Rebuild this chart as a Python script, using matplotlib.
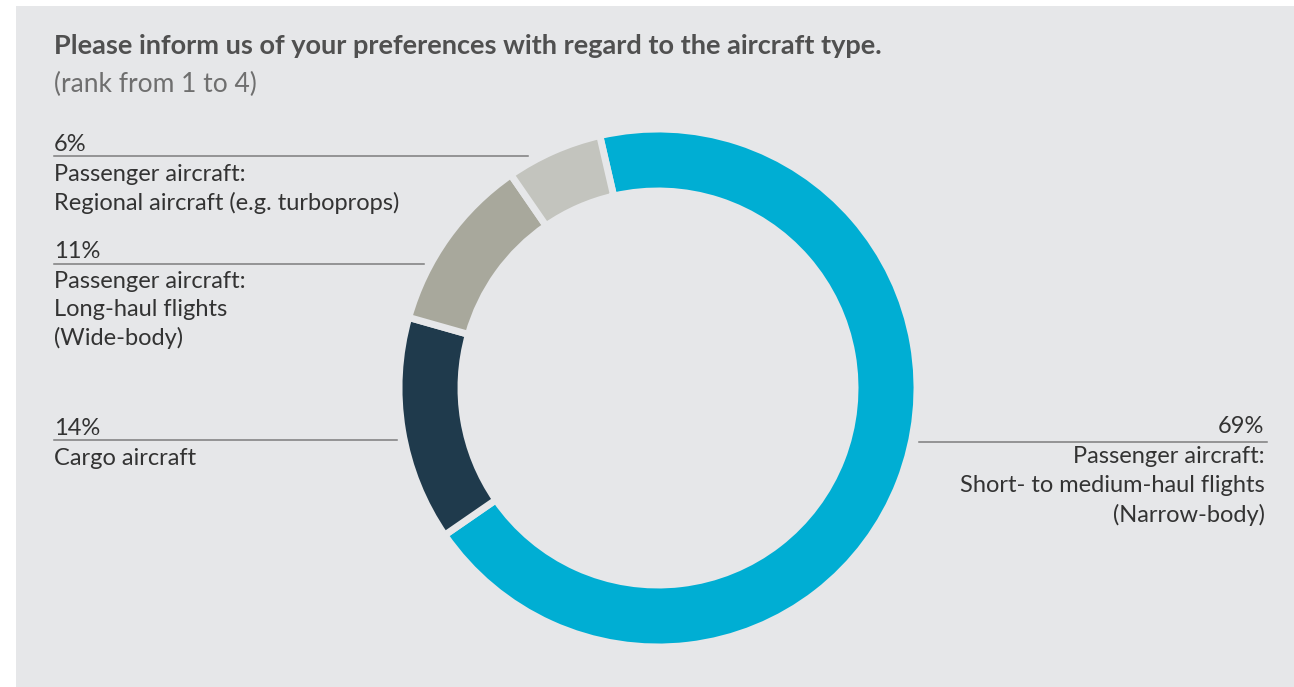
import matplotlib
matplotlib.use("Agg")
import matplotlib.pyplot as plt
from matplotlib.patches import Rectangle

# data
shares = [69, 14, 11, 6]
names = [
    "Passenger aircraft:\nShort- to medium-haul flights\n(Narrow-body)",
    "Cargo aircraft",
    "Passenger aircraft:\nLong-haul flights\n(Wide-body)",
    "Passenger aircraft:\nRegional aircraft (e.g. turboprops)",
]
colors = ["#00aed3", "#1f3a4c", "#a8a89c", "#c3c4be"]

title = "Please inform us of your preferences with regard to the aircraft type."
subtitle = "(rank from 1 to 4)"

W, H = 1294, 687
BG = "#e6e7e9"
TXT = "#333333"
LINE = "#7d7d7d"
FONT = "Lato"
FS = 17

fig = plt.figure(figsize=(W / 100, H / 100), dpi=100, facecolor="white")
ax = fig.add_axes([0, 0, 1, 1])

ax.add_patch(Rectangle((16, 0), W - 16, H - 6, facecolor=BG, edgecolor="none", zorder=0))

cx, cy = 658, H - 388
ax.pie(
    shares,
    colors=colors,
    startangle=103,
    counterclock=False,
    radius=259,
    center=(cx, cy),
    wedgeprops=dict(width=62, edgecolor=BG, linewidth=5),
)
ax.set_xlim(0, W)
ax.set_ylim(0, H)
ax.set_aspect("equal")
ax.axis("off")

ax.text(54, H - 54, title, fontsize=19.5, fontweight="bold", color="#505050",
        family=FONT, va="baseline", ha="left")
ax.text(54, H - 92, subtitle, fontsize=19, color="#6f6f6f",
        family=FONT, va="baseline", ha="left")

# left-hand labels: (index, baseline of pct, line y, line right end)
left = [(3, 151, 156, 528), (2, 258, 264, 424), (1, 435, 440, 397)]
for i, yb, yl, xe in left:
    ax.text(54, H - yb, f"{shares[i]}%", fontsize=FS, color=TXT, family=FONT,
            va="baseline", ha="left")
    ax.plot([54, xe], [H - yl, H - yl], color=LINE, lw=1.1)
    for k, row in enumerate(names[i].split("\n")):
        ax.text(54, H - (yb + 30 + 28.5 * k), row, fontsize=FS, color=TXT,
                family=FONT, va="baseline", ha="left")

# right-hand label for the large share
ax.text(1264, H - 433, f"{shares[0]}%", fontsize=FS, color=TXT, family=FONT,
        va="baseline", ha="right")
ax.plot([919, 1267], [H - 442, H - 442], color=LINE, lw=1.1)
for k, row in enumerate(names[0].split("\n")):
    ax.text(1265, H - (463 + 29.5 * k), row, fontsize=FS, color=TXT,
            family=FONT, va="baseline", ha="right")

fig.savefig("out.png", dpi=100, facecolor="white")
